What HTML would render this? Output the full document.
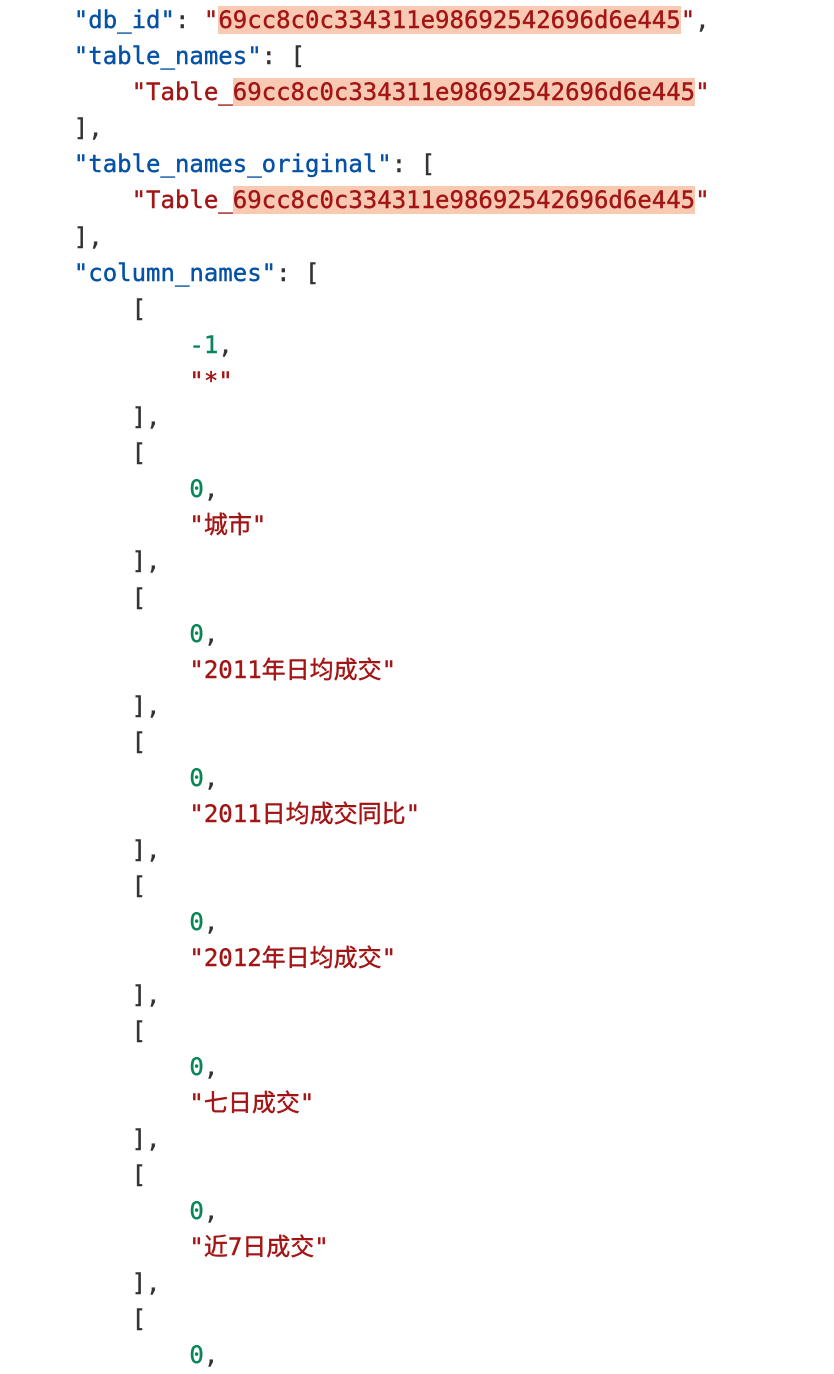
<!DOCTYPE html>
<html><head><meta charset="utf-8"><style>
body{margin:0;background:#fff;width:834px;height:1358px;overflow:hidden}
pre{margin:0;padding:2px 0 0 16px;font-family:"DejaVu Sans Mono","Liberation Mono","Noto Sans CJK SC",monospace;font-size:24px;line-height:36.1px;color:#333;-webkit-text-stroke:0.4px}
.k{color:#0451a5}.s{color:#a31515}.n{color:#098658}
.h{background:#f8c9b3}
</style></head><body><pre>    <span class="k">"db_id"</span>: <span class="s">"<span class="h">69cc8c0c334311e98692542696d6e445</span>"</span>,
    <span class="k">"table_names"</span>: [
        <span class="s">"Table_<span class="h">69cc8c0c334311e98692542696d6e445</span>"</span>
    ],
    <span class="k">"table_names_original"</span>: [
        <span class="s">"Table_<span class="h">69cc8c0c334311e98692542696d6e445</span>"</span>
    ],
    <span class="k">"column_names"</span>: [
        [
            <span class="n">-1</span>,
            <span class="s">"*"</span>
        ],
        [
            <span class="n">0</span>,
            <span class="s">"城市"</span>
        ],
        [
            <span class="n">0</span>,
            <span class="s">"2011年日均成交"</span>
        ],
        [
            <span class="n">0</span>,
            <span class="s">"2011日均成交同比"</span>
        ],
        [
            <span class="n">0</span>,
            <span class="s">"2012年日均成交"</span>
        ],
        [
            <span class="n">0</span>,
            <span class="s">"七日成交"</span>
        ],
        [
            <span class="n">0</span>,
            <span class="s">"近7日成交"</span>
        ],
        [
            <span class="n">0</span>,
</pre></body></html>
